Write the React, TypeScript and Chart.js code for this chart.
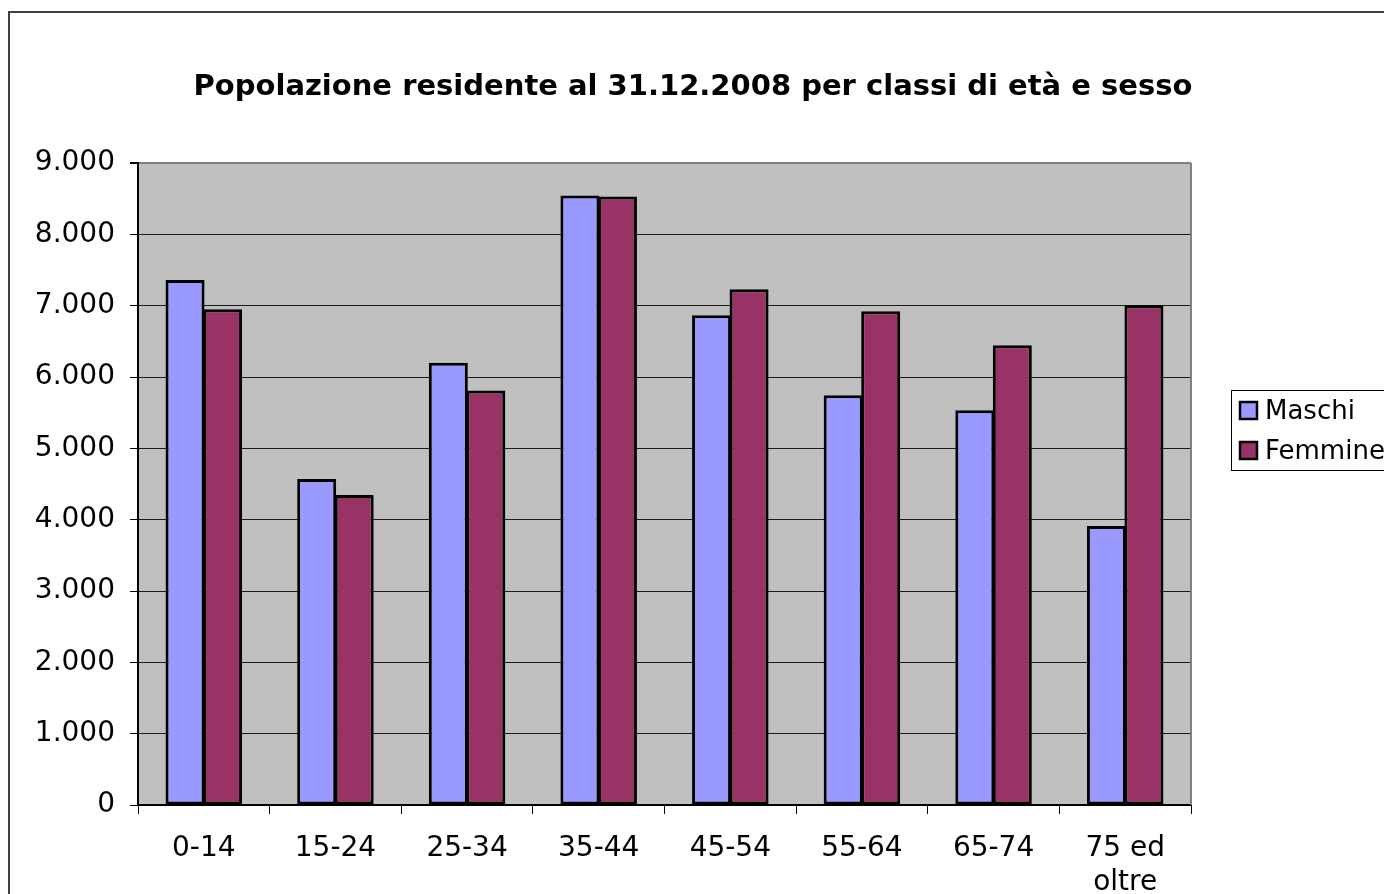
import React, { useEffect, useRef } from "react";
import { Chart, registerables } from "chart.js";

Chart.register(...registerables);

const categories: (string | string[])[] = ["0-14", "15-24", "25-34", "35-44", "45-54", "55-64", "65-74", ["75 ed", "oltre"]];
const maschi = [7360, 4570, 6200, 8545, 6865, 5745, 5535, 3910];
const femmine = [6950, 4345, 5810, 8530, 7230, 6920, 6445, 7005];
const seriesNames = ["Maschi", "Femmine"];
const seriesColors = ["#9999FF", "#993366"];
const titleText = "Popolazione residente al 31.12.2008 per classi di età e sesso";
const yMax = 9000;
const yStep = 1000;

const FONT = "'DejaVu Sans', Verdana, sans-serif";

const fmt = (v: number) => String(v).replace(/\B(?=(\d{3})+(?!\d))/g, ".");

const decorPlugin = {
  id: "decor",
  beforeDraw(chart: any) {
    const { ctx, chartArea: a } = chart;
    ctx.save();
    ctx.fillStyle = "#C0C0C0";
    ctx.fillRect(a.left, a.top, a.right - a.left, a.bottom - a.top);
    ctx.restore();
  },
  afterDraw(chart: any) {
    const { ctx, chartArea: a } = chart;
    ctx.save();
    // right border of plot area
    ctx.strokeStyle = "#808080";
    ctx.lineWidth = 2;
    ctx.beginPath();
    ctx.moveTo(a.right, a.top);
    ctx.lineTo(a.right, a.bottom);
    ctx.stroke();
    // title
    ctx.fillStyle = "#000";
    ctx.font = `bold 29px ${FONT}`;
    ctx.textAlign = "center";
    ctx.textBaseline = "middle";
    ctx.fillText(titleText, 683, 74);
    // legend
    const lx = 1221, ly = 377;
    ctx.strokeStyle = "#000";
    ctx.lineWidth = 1;
    ctx.strokeRect(lx + 0.5, ly + 0.5, 200, 80);
    ctx.font = `26px ${FONT}`;
    ctx.textAlign = "left";
    chart.data.datasets.forEach((ds: any, i: number) => {
      const sy = ly + 12 + i * 40;
      ctx.fillStyle = ds.backgroundColor;
      ctx.fillRect(lx + 9, sy, 17, 17);
      ctx.lineWidth = 2.5;
      ctx.strokeStyle = "#000";
      ctx.strokeRect(lx + 9, sy, 17, 17);
      ctx.fillStyle = "#000";
      ctx.fillText(ds.label, lx + 34, sy + 10);
    });
    ctx.restore();
  },
};

export default function App() {
  const ref = useRef<HTMLCanvasElement | null>(null);
  useEffect(() => {
    if (!ref.current) return;
    const chart = new Chart(ref.current, {
      type: "bar",
      data: {
        labels: categories as any,
        datasets: [
          { label: seriesNames[0], data: maschi, backgroundColor: seriesColors[0], borderColor: "#000", borderWidth: 3, borderSkipped: false },
          { label: seriesNames[1], data: femmine, backgroundColor: seriesColors[1], borderColor: "#000", borderWidth: 3, borderSkipped: false },
        ],
      },
      options: {
        animation: false,
        responsive: false,
        events: [],
        layout: { padding: { top: 150, right: 193, left: 0, bottom: 0 } },
        datasets: { bar: { categoryPercentage: 0.57, barPercentage: 1.04 } },
        plugins: { legend: { display: false }, title: { display: false }, tooltip: { enabled: false } },
        scales: {
          x: {
            grid: { offset: true, drawOnChartArea: false, drawTicks: true, tickLength: 9, color: "#000", lineWidth: 1 },
            border: { display: true, color: "#000", width: 2 },
            ticks: { color: "#000", font: { family: FONT, size: 28 }, padding: 18, maxRotation: 0, autoSkip: false },
            afterFit: (s: any) => { s.height = 89; },
          },
          y: {
            min: 0,
            max: yMax,
            grid: {
              color: (c: any) => (c.tick && c.tick.value === yMax ? "#808080" : "#1a1a1a"),
              lineWidth: (c: any) => (c.tick && c.tick.value === yMax ? 2 : 1),
              tickLength: 8,
              tickColor: "#000",
              drawTicks: true,
            },
            border: { display: true, color: "#000", width: 2 },
            ticks: { stepSize: yStep, color: "#000", font: { family: FONT, size: 28 }, padding: 15, callback: (v: any) => fmt(Number(v)) },
            afterFit: (s: any) => { s.width = 128; },
          },
        },
      },
      plugins: [decorPlugin],
    });
    return () => chart.destroy();
  }, []);
  return (
    <div style={{ position: "fixed", left: 0, top: 0, width: 1384, height: 894, overflow: "hidden", background: "#fff" }}>
      <div style={{ position: "absolute", left: 8, top: 11, width: 1500, height: 1000, borderLeft: "2px solid #404040", borderTop: "2px solid #404040" }} />
      <canvas ref={ref} width={1374} height={881} style={{ position: "absolute", left: 10, top: 13, width: 1374, height: 881 }} />
    </div>
  );
}
